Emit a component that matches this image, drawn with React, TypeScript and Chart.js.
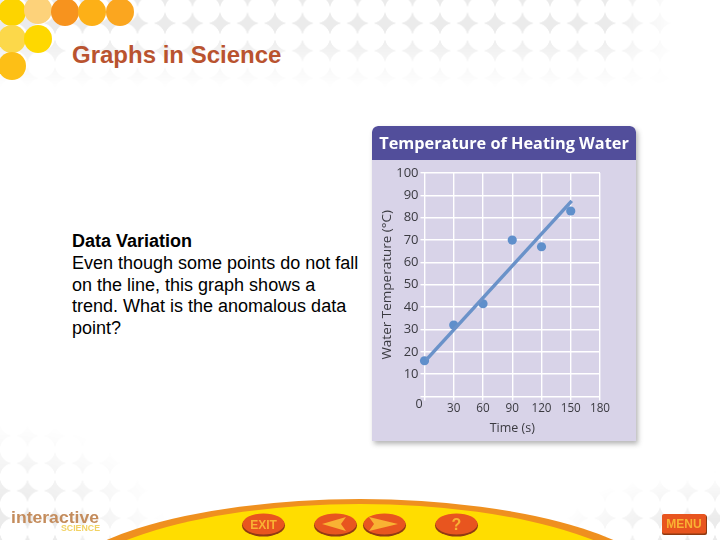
import React, { useEffect, useRef } from "react";
import { Chart, registerables } from "chart.js";

Chart.register(...registerables);

const timeSeconds = [0, 30, 60, 90, 120, 150];
const waterTemps = [16, 32, 41.5, 70, 67, 83];
const trendTimes = [2, 151];
const trendTemps = [16.5, 87.5];
const xTicks = [0, 30, 60, 90, 120, 150, 180];
const yTicks = [0, 10, 20, 30, 40, 50, 60, 70, 80, 90, 100];
const bodyLines = [
  "Even though some points do not fall",
  "on the line, this graph shows a",
  "trend. What is the anomalous data",
  "point?",
];
const dots: [number, number, string][] = [
  [12, 12, "#fdd400"], [38, 10, "#fdd27a"], [65, 12, "#f7931e"], [92, 12, "#fdb017"], [120, 12, "#fba61f"],
  [12, 39, "#fcd84a"], [38, 39, "#fed800"], [12, 66, "#fdbf16"],
];

const LABEL = "#3a3a40";
const AXIS_FONT = "'Open Sans'";

const zeroLabel = {
  id: "zeroLabel",
  afterDraw(chart: any) {
    const { ctx, scales } = chart;
    ctx.save();
    ctx.fillStyle = LABEL;
    ctx.font = `12.5px ${AXIS_FONT}`;
    ctx.textAlign = "center";
    ctx.textBaseline = "middle";
    ctx.fillText("0", scales.x.getPixelForValue(0) - 5.5, scales.y.getPixelForValue(0) + 7.5);
    ctx.restore();
  },
};

const headerBand = {
  id: "headerBand",
  beforeDraw(chart: any) {
    const { ctx, width } = chart;
    ctx.save();
    ctx.fillStyle = "#524e9b";
    ctx.beginPath();
    ctx.roundRect(0, 0, width, 34, [6, 6, 0, 0]);
    ctx.fill();
    ctx.restore();
  },
};

function Plot() {
  const ref = useRef<HTMLCanvasElement>(null);
  useEffect(() => {
    const chart = new Chart(ref.current!, {
      type: "scatter",
      data: {
        datasets: [
          {
            data: trendTimes.map((x, i) => ({ x, y: trendTemps[i] })),
            showLine: true,
            borderColor: "#6a92c9",
            borderWidth: 3.5,
            pointRadius: 0,
            clip: false,
          },
          {
            data: timeSeconds.map((x, i) => ({ x, y: waterTemps[i] })),
            backgroundColor: "#5f8fcb",
            borderWidth: 0,
            pointRadius: 4.6,
            clip: false,
          },
        ],
      } as any,
      options: {
        animation: false,
        responsive: false,
        layout: { padding: 0 },
        plugins: {
          legend: { display: false },
          tooltip: { enabled: false },
          title: {
            display: true,
            text: "Temperature of Heating Water",
            color: "#ffffff",
            font: { family: "'Open Sans'", size: 16.3, weight: "bold" },
            padding: { top: 8.5, bottom: 18.94 },
          },
        },
        scales: {
          x: {
            type: "linear",
            min: 0,
            max: 180,
            afterBuildTicks: (s: any) => { s.ticks = xTicks.map((value) => ({ value })); },
            afterFit: (s: any) => { s.height = 44.5; },
            grid: { color: "#ffffff", lineWidth: 1.4, tickLength: 4, tickColor: "#ffffff" },
            border: { display: false },
            ticks: {
              color: LABEL,
              font: { family: AXIS_FONT, size: 11.7 },
              padding: 1,
              maxRotation: 0,
              callback: (v: any) => (v === 0 ? "" : String(v)),
            },
            title: {
              display: true,
              text: "Time (s)",
              color: LABEL,
              font: { family: AXIS_FONT, size: 12.5 },
              padding: { top: 3, bottom: 5 },
            },
          },
          y: {
            type: "linear",
            min: 0,
            max: 100,
            afterBuildTicks: (s: any) => { s.ticks = yTicks.map((value) => ({ value })); },
            afterFit: (s: any) => { s.width = 52.5; },
            grid: { color: "#ffffff", lineWidth: 1.4, tickLength: 4, tickColor: "#ffffff" },
            border: { display: false },
            ticks: {
              color: LABEL,
              font: { family: AXIS_FONT, size: 13 },
              padding: 2,
              callback: (v: any) => (v === 0 ? "" : String(v)),
            },
            title: {
              display: true,
              text: "Water Temperature (°C)",
              color: LABEL,
              font: { family: AXIS_FONT, size: 13.5 },
              padding: { top: 7, bottom: 0 },
            },
          },
          margin: {
            type: "linear",
            position: "right",
            afterFit: (s: any) => { s.width = 36; },
            grid: { display: false },
            border: { display: false },
            ticks: { display: false },
          },
        },
      } as any,
      plugins: [headerBand, zeroLabel],
    });
    return () => chart.destroy();
  }, []);
  return (
    <canvas
      ref={ref}
      width={264}
      height={315}
      style={{
        position: "absolute", left: 372, top: 126, width: 264, height: 315,
        background: "#d8d3e8", borderRadius: "6px 6px 0 0", boxShadow: "2px 3px 5px rgba(90,90,90,0.45)",
      }}
    />
  );
}

function Button({ cx, children }: { cx: number; children: React.ReactNode }) {
  return (
    <g>
      <ellipse cx={cx} cy={525.5} rx={21.5} ry={11} fill="#8f3a12" />
      <ellipse cx={cx} cy={524} rx={21} ry={10.5} fill="#e8551f" />
      {children}
    </g>
  );
}

function Footer() {
  const txt = "#f9b233";
  const label = { fontFamily: "'Liberation Sans'", fontWeight: 700 } as const;
  return (
    <svg width={720} height={540} style={{ position: "absolute", left: 0, top: 0 }}>
      <ellipse cx={360} cy={600} rx={315} ry={101} fill="#ef901f" />
      <ellipse cx={360} cy={606} rx={306} ry={102} fill="#ffdd00" />
      <text x={11} y={523} style={{ ...label, fontSize: 17 }} fill="#c48c5c" textLength={88} lengthAdjust="spacingAndGlyphs">interactive</text>
      <text x={61} y={531} style={{ ...label, fontSize: 9.5 }} fill="#f2d264" textLength={39} lengthAdjust="spacingAndGlyphs">SCIENCE</text>
      <Button cx={263.5}>
        <text x={263.5} y={528.5} textAnchor="middle" style={{ ...label, fontSize: 12 }} fill={txt}>EXIT</text>
      </Button>
      <Button cx={335.5}>
        <path d="M322 524 L346 517 L341 524 L346 531 Z" fill={txt} />
      </Button>
      <Button cx={384.5}>
        <path d="M398 524 L369 517 L374 524 L369 531 Z" fill={txt} />
      </Button>
      <Button cx={456.5}>
        <text x={456.5} y={530} textAnchor="middle" style={{ ...label, fontSize: 16 }} fill={txt}>?</text>
      </Button>
      <rect x={662} y={515} width={45} height={20} rx={2} fill="#8f3a12" />
      <rect x={662} y={514} width={44} height={19.5} rx={2} fill="#e8551f" />
      <text x={684} y={528} textAnchor="middle" style={{ ...label, fontSize: 12 }} fill={txt}>MENU</text>
    </svg>
  );
}

const patternBase: React.CSSProperties = {
  position: "absolute",
  inset: 0,
  backgroundColor: "#ebebeb",
  backgroundImage: "radial-gradient(circle at center, #fff 13.5px, transparent 14.1px)",
  backgroundSize: "27.5px 27.5px",
  backgroundPosition: "0px -4.25px",
};

function Pattern({ mask, composite }: { mask: string; composite?: boolean }) {
  const style: any = { ...patternBase, WebkitMaskImage: mask, maskImage: mask };
  if (composite) style.maskComposite = "intersect";
  return <div style={style} />;
}

export default function App() {
  return (
    <div style={{ position: "fixed", left: 0, top: 0, width: 720, height: 540, overflow: "hidden", background: "#fff", fontFamily: "'Liberation Sans'" }}>
      <Pattern
        composite
        mask="linear-gradient(to bottom, #000 30px, transparent 88px), linear-gradient(to right, #000 610px, transparent 680px)"
      />
      <Pattern mask="radial-gradient(ellipse 170px 120px at 0px 540px, #000 30%, transparent 100%)" />
      <Pattern mask="radial-gradient(ellipse 170px 70px at 720px 540px, #000 30%, transparent 100%)" />
      {dots.map(([cx, cy, c], i) => (
        <div key={i} style={{ position: "absolute", left: cx - 14, top: cy - 14, width: 28, height: 28, borderRadius: "50%", background: c }} />
      ))}
      <div style={{ position: "absolute", left: 72, top: 41, fontSize: 24, lineHeight: "28px", fontWeight: 700, color: "#b9532f" }}>Graphs in Science</div>
      <div style={{ position: "absolute", left: 72, top: 231, fontSize: 18, lineHeight: "21.8px", color: "#000", whiteSpace: "nowrap" }}>
        <div style={{ fontWeight: 700 }}>Data Variation</div>
        {bodyLines.map((l) => <div key={l}>{l}</div>)}
      </div>
      <Plot />
      <Footer />
    </div>
  );
}
